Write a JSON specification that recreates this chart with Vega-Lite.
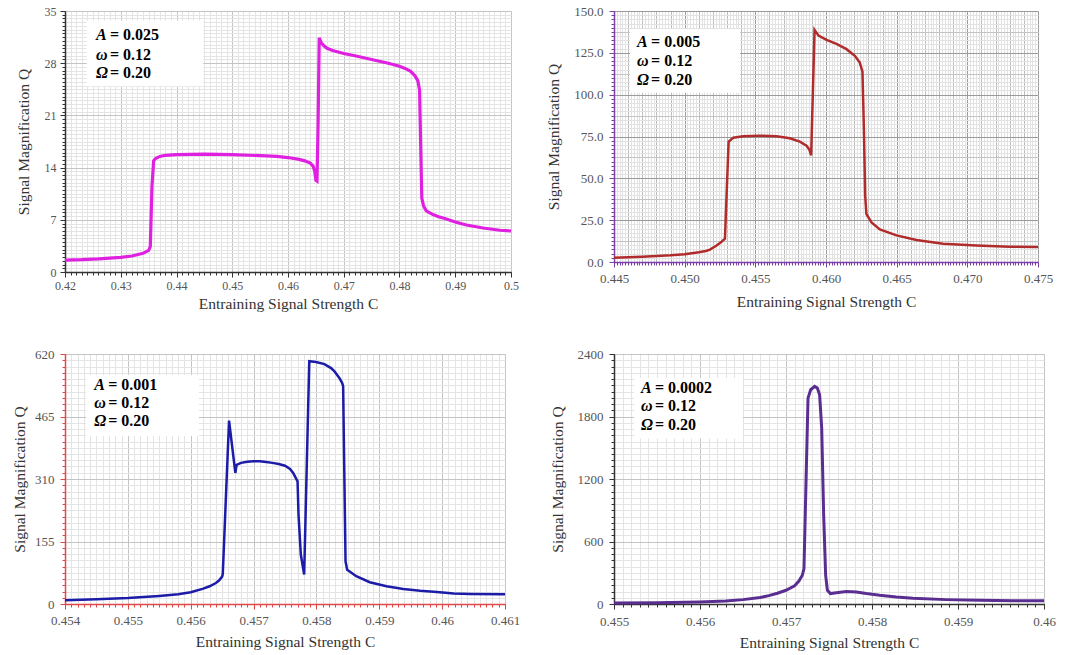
{
  "$schema": "https://vega.github.io/schema/vega-lite/v6.json",
  "background": "white",
  "padding": {"left": 12, "top": 5, "right": 5, "bottom": 5},
  "config": {
    "view": {"stroke": null},
    "axis": {"labelFont": "Liberation Serif", "titleFont": "Liberation Serif", "labelColor": "#555555", "titleColor": "#333333", "titleFontWeight": "normal", "labelFontSize": 13, "titleFontSize": 15.5, "labelFlush": false, "labelOverlap": false}
  },
  "datasets": {
    "p1": [
      {"C":0.42,"Q":1.6},{"C":0.423,"Q":1.65},{"C":0.426,"Q":1.75},{"C":0.428,"Q":1.85},{"C":0.43,"Q":1.97},{"C":0.432,"Q":2.15},{"C":0.434,"Q":2.5},{"C":0.435,"Q":2.9},{"C":0.4353,"Q":3.4},{"C":0.4356,"Q":11.5},{"C":0.4359,"Q":14.9},{"C":0.4362,"Q":15.2},{"C":0.437,"Q":15.5},{"C":0.438,"Q":15.65},{"C":0.44,"Q":15.75},{"C":0.445,"Q":15.8},{"C":0.45,"Q":15.75},{"C":0.455,"Q":15.6},{"C":0.458,"Q":15.5},{"C":0.46,"Q":15.35},{"C":0.462,"Q":15.1},{"C":0.463,"Q":14.9},{"C":0.464,"Q":14.6},{"C":0.4645,"Q":14.2},{"C":0.4648,"Q":13.5},{"C":0.465,"Q":12.3},{"C":0.4652,"Q":12.2},{"C":0.4654,"Q":20},{"C":0.4656,"Q":31.4},{"C":0.4658,"Q":31.0},{"C":0.466,"Q":30.7},{"C":0.4665,"Q":30.3},{"C":0.467,"Q":30.0},{"C":0.468,"Q":29.7},{"C":0.47,"Q":29.3},{"C":0.472,"Q":29.0},{"C":0.475,"Q":28.5},{"C":0.478,"Q":28.0},{"C":0.48,"Q":27.6},{"C":0.481,"Q":27.3},{"C":0.482,"Q":26.9},{"C":0.4828,"Q":26.3},{"C":0.4833,"Q":25.6},{"C":0.4836,"Q":24.4},{"C":0.4838,"Q":17},{"C":0.484,"Q":9.9},{"C":0.4843,"Q":8.9},{"C":0.4848,"Q":8.2},{"C":0.486,"Q":7.7},{"C":0.487,"Q":7.4},{"C":0.488,"Q":7.2},{"C":0.49,"Q":6.7},{"C":0.492,"Q":6.3},{"C":0.495,"Q":5.9},{"C":0.498,"Q":5.6},{"C":0.5,"Q":5.5}
    ],
    "p2": [
      {"C":0.445,"Q":2.6},{"C":0.447,"Q":3.2},{"C":0.449,"Q":4.0},{"C":0.45,"Q":4.7},{"C":0.451,"Q":5.8},{"C":0.4515,"Q":6.6},{"C":0.45179,"Q":7.4},{"C":0.45226,"Q":9.9},{"C":0.45261,"Q":12.1},{"C":0.45285,"Q":13.9},{"C":0.45311,"Q":71.9},{"C":0.45344,"Q":74.3},{"C":0.45414,"Q":75.1},{"C":0.45532,"Q":75.5},{"C":0.4565,"Q":75.1},{"C":0.45744,"Q":73.9},{"C":0.45815,"Q":71.9},{"C":0.45862,"Q":69.5},{"C":0.45881,"Q":67.4},{"C":0.45895,"Q":63.8},{"C":0.45919,"Q":138.7},{"C":0.45947,"Q":135.3},{"C":0.46004,"Q":132.7},{"C":0.46074,"Q":130.3},{"C":0.46145,"Q":127.2},{"C":0.46204,"Q":123.2},{"C":0.46239,"Q":119.2},{"C":0.46258,"Q":113.8},{"C":0.46268,"Q":79.9},{"C":0.46277,"Q":39.7},{"C":0.46286,"Q":28.6},{"C":0.46322,"Q":23.6},{"C":0.46381,"Q":19.5},{"C":0.46499,"Q":15.9},{"C":0.4664,"Q":13.1},{"C":0.46828,"Q":10.9},{"C":0.47064,"Q":9.9},{"C":0.473,"Q":9.1},{"C":0.475,"Q":8.9}
    ],
    "p3": [
      {"C":0.454,"Q":9},{"C":0.4545,"Q":12},{"C":0.455,"Q":15},{"C":0.4555,"Q":20},{"C":0.4558,"Q":24},{"C":0.456,"Q":29},{"C":0.4562,"Q":38},{"C":0.4563,"Q":44},{"C":0.4564,"Q":52},{"C":0.45645,"Q":58},{"C":0.4565,"Q":68},{"C":0.45651,"Q":74},{"C":0.45661,"Q":455},{"C":0.45671,"Q":325},{"C":0.45673,"Q":345},{"C":0.4568,"Q":350},{"C":0.4569,"Q":353},{"C":0.457,"Q":354},{"C":0.4571,"Q":354},{"C":0.4572,"Q":352},{"C":0.4573,"Q":350},{"C":0.4574,"Q":347},{"C":0.4575,"Q":343},{"C":0.45758,"Q":335},{"C":0.45763,"Q":325},{"C":0.4577,"Q":304},{"C":0.457715,"Q":221},{"C":0.457752,"Q":122},{"C":0.457805,"Q":73},{"C":0.457886,"Q":602},{"C":0.457993,"Q":600},{"C":0.458127,"Q":595},{"C":0.458233,"Q":585},{"C":0.458287,"Q":577},{"C":0.458367,"Q":560},{"C":0.45841,"Q":548},{"C":0.458425,"Q":540},{"C":0.458441,"Q":354},{"C":0.458463,"Q":106},{"C":0.458489,"Q":85},{"C":0.458634,"Q":69},{"C":0.458848,"Q":54},{"C":0.459115,"Q":44},{"C":0.459382,"Q":37},{"C":0.45965,"Q":33},{"C":0.459917,"Q":30},{"C":0.460184,"Q":26},{"C":0.46045,"Q":25},{"C":0.461,"Q":24}
    ],
    "p4": [
      {"C":0.455,"Q":10},{"C":0.4555,"Q":13},{"C":0.456,"Q":19},{"C":0.4563,"Q":28},{"C":0.4565,"Q":42},{"C":0.4567,"Q":62},{"C":0.4568,"Q":80},{"C":0.4569,"Q":103},{"C":0.457,"Q":132},{"C":0.4571,"Q":175},{"C":0.45715,"Q":220},{"C":0.45719,"Q":276},{"C":0.457209,"Q":340},{"C":0.457256,"Q":1976},{"C":0.457287,"Q":2057},{"C":0.457333,"Q":2089},{"C":0.457364,"Q":2073},{"C":0.457391,"Q":2008},{"C":0.457415,"Q":1688},{"C":0.457438,"Q":853},{"C":0.457461,"Q":276},{"C":0.457481,"Q":132},{"C":0.457516,"Q":100},{"C":0.457585,"Q":109},{"C":0.457702,"Q":119},{"C":0.457818,"Q":115},{"C":0.457934,"Q":100},{"C":0.458089,"Q":83},{"C":0.458283,"Q":67},{"C":0.458477,"Q":55},{"C":0.458864,"Q":42},{"C":0.459252,"Q":35},{"C":0.45964,"Q":32},{"C":0.46,"Q":32}
    ],
    "b1": [{"C1":0.4239,"C2":0.4448,"Q1":24.9,"Q2":33.7}],
    "b2": [{"C1":0.44613,"C2":0.45392,"Q1":101.2,"Q2":139.2}],
    "b3": [{"C1":0.454336,"C2":0.45613,"Q1":416.6,"Q2":568}],
    "b4": [{"C1":0.455233,"C2":0.4565,"Q1":1590,"Q2":2169}],
    "t1": [{"C":0.42556,"Q":31.1,"sym":"A","val":"= 0.025"},{"C":0.42556,"Q":28.4,"sym":"ω","val":"= 0.12"},{"C":0.42556,"Q":26.0,"sym":"Ω","val":"= 0.20"}],
    "t2": [{"C":0.44663,"Q":128.3,"sym":"A","val":"= 0.005"},{"C":0.44663,"Q":116.9,"sym":"ω","val":"= 0.12"},{"C":0.44663,"Q":106.0,"sym":"Ω","val":"= 0.20"}],
    "t3": [{"C":0.454465,"Q":530.7,"sym":"A","val":"= 0.001"},{"C":0.454465,"Q":486,"sym":"ω","val":"= 0.12"},{"C":0.454465,"Q":441,"sym":"Ω","val":"= 0.20"}],
    "t4": [{"C":0.455314,"Q":2024,"sym":"A","val":"= 0.0002"},{"C":0.455314,"Q":1851,"sym":"ω","val":"= 0.12"},{"C":0.455314,"Q":1668,"sym":"Ω","val":"= 0.20"}]
  },
  "columns": 2,
  "spacing": {"row": 82, "column": 103},
  "bounds": "flush",
  "concat": [
        {
          "width": 446, "height": 261,
          "layer": [
            {"data": {"name": "p1"}, "mark": {"type": "line", "strokeOpacity": 0},
             "encoding": {
               "x": {"field": "C", "type": "quantitative", "scale": {"domain": [0.42, 0.5], "nice": false, "zero": false},
                     "axis": {"orient": "bottom", "tickCount": 80, "grid": true, "gridColor": "#e4e4e4", "labels": false, "domain": false, "ticks": true, "tickSize": 3, "tickColor": "#333333", "title": null}},
               "y": {"field": "Q", "type": "quantitative", "scale": {"domain": [0, 35], "nice": false, "zero": false},
                     "axis": {"orient": "left", "tickCount": 70, "grid": true, "gridColor": "#e4e4e4", "labels": false, "domain": false, "ticks": true, "tickSize": 3, "tickColor": "#333333", "title": null}}
             }},
            {"data": {"name": "b1"}, "mark": {"type": "rect", "fill": "white"},
             "encoding": {"x": {"field": "C1", "type": "quantitative", "axis": null}, "x2": {"field": "C2"}, "y": {"field": "Q1", "type": "quantitative", "axis": null}, "y2": {"field": "Q2"}}},
            {"data": {"name": "p1"}, "mark": {"type": "line", "color": "#E020E0", "strokeWidth": 3.2},
             "encoding": {
               "x": {"field": "C", "type": "quantitative", "scale": {"domain": [0.42, 0.5], "nice": false, "zero": false},
                     "axis": {"orient": "bottom", "values": [0.42,0.43,0.44,0.45,0.46,0.47,0.48,0.49,0.5], "format": ".2~f", "grid": true, "gridColor": "#c4c4c4", "domainColor": "#333333", "domainWidth": 1.5, "tickColor": "#333333", "tickSize": 5, "labelPadding": 3, "labelFontSize": 12, "title": "Entraining Signal Strength  C", "titlePadding": 5}},
               "y": {"field": "Q", "type": "quantitative", "scale": {"domain": [0, 35], "nice": false, "zero": false},
                     "axis": {"orient": "left", "values": [0,7,14,21,28,35], "format": "d", "grid": true, "gridColor": "#c4c4c4", "domainColor": "#333333", "domainWidth": 1.5, "tickColor": "#333333", "tickSize": 5, "labelPadding": 4, "labelFontSize": 12, "title": "Signal Magnification  Q", "titlePadding": 13}}
             }},
            {"data": {"name": "t1"}, "mark": {"type": "text", "font": "Liberation Serif", "fontSize": 16, "fontWeight": "bold", "fontStyle": "italic", "align": "left", "baseline": "alphabetic", "color": "black"},
             "encoding": {"x": {"field": "C", "type": "quantitative", "axis": null}, "y": {"field": "Q", "type": "quantitative", "axis": null}, "text": {"field": "sym"}}},
            {"data": {"name": "t1"}, "mark": {"type": "text", "font": "Liberation Serif", "fontSize": 16, "fontWeight": "bold", "align": "left", "baseline": "alphabetic", "dx": 14, "color": "black"},
             "encoding": {"x": {"field": "C", "type": "quantitative", "axis": null}, "y": {"field": "Q", "type": "quantitative", "axis": null}, "text": {"field": "val"}}}
          ],
          "resolve": {"axis": {"x": "independent", "y": "independent"}}
        },
        {
          "width": 424, "height": 251,
          "layer": [
            {"data": {"name": "p2"}, "mark": {"type": "line", "strokeOpacity": 0},
             "encoding": {
               "x": {"field": "C", "type": "quantitative", "scale": {"domain": [0.445, 0.475], "nice": false, "zero": false},
                     "axis": {"orient": "bottom", "tickCount": 150, "grid": true, "gridColor": "#e2e2e2", "labels": false, "domain": false, "ticks": true, "tickSize": 3, "tickColor": "#7B3FA8", "title": null}},
               "y": {"field": "Q", "type": "quantitative", "scale": {"domain": [0, 150], "nice": false, "zero": false},
                     "axis": {"orient": "left", "values": [0,2.5,5,7.5,10,12.5,15,17.5,20,22.5,25,27.5,30,32.5,35,37.5,40,42.5,45,47.5,50,52.5,55,57.5,60,62.5,65,67.5,70,72.5,75,77.5,80,82.5,85,87.5,90,92.5,95,97.5,100,102.5,105,107.5,110,112.5,115,117.5,120,122.5,125,127.5,130,132.5,135,137.5,140,142.5,145,147.5,150], "grid": true, "gridColor": "#e2e2e2", "labels": false, "domain": false, "ticks": true, "tickSize": 3, "tickColor": "#7B3FA8", "title": null}}
             }},
            {"data": {"name": "p2"}, "mark": {"type": "line", "strokeOpacity": 0},
             "encoding": {
               "x": {"field": "C", "type": "quantitative", "scale": {"domain": [0.445, 0.475], "nice": false, "zero": false},
                     "axis": {"orient": "bottom", "tickCount": 30, "grid": true, "gridColor": "#bdbdbd", "labels": false, "domain": false, "ticks": false, "title": null}},
               "y": {"field": "Q", "type": "quantitative", "scale": {"domain": [0, 150], "nice": false, "zero": false},
                     "axis": {"orient": "left", "values": [0,12.5,25,37.5,50,62.5,75,87.5,100,112.5,125,137.5,150], "grid": true, "gridColor": "#c4c4c4", "labels": false, "domain": false, "ticks": false, "title": null}}
             }},
            {"data": {"name": "b2"}, "mark": {"type": "rect", "fill": "white"},
             "encoding": {"x": {"field": "C1", "type": "quantitative", "axis": null}, "x2": {"field": "C2"}, "y": {"field": "Q1", "type": "quantitative", "axis": null}, "y2": {"field": "Q2"}}},
            {"data": {"name": "p2"}, "mark": {"type": "line", "color": "#B02C2C", "strokeWidth": 2.5},
             "encoding": {
               "x": {"field": "C", "type": "quantitative", "scale": {"domain": [0.445, 0.475], "nice": false, "zero": false},
                     "axis": {"orient": "bottom", "values": [0.445,0.45,0.455,0.46,0.465,0.47,0.475], "format": ".3f", "grid": true, "gridColor": "#9a9a9a", "domainColor": "#7B3FA8", "domainWidth": 1.5, "tickColor": "#7B3FA8", "tickSize": 5, "labelPadding": 5, "title": "Entraining Signal Strength  C", "titlePadding": 9}},
               "y": {"field": "Q", "type": "quantitative", "scale": {"domain": [0, 150], "nice": false, "zero": false},
                     "axis": {"orient": "left", "values": [0,25,50,75,100,125,150], "format": ".1f", "grid": true, "gridColor": "#9a9a9a", "domainColor": "#7B3FA8", "domainWidth": 1.5, "tickColor": "#7B3FA8", "tickSize": 5, "labelPadding": 6, "title": "Signal Magnification  Q", "titlePadding": 12}}
             }},
            {"data": {"name": "t2"}, "mark": {"type": "text", "font": "Liberation Serif", "fontSize": 16, "fontWeight": "bold", "fontStyle": "italic", "align": "left", "baseline": "alphabetic", "color": "black"},
             "encoding": {"x": {"field": "C", "type": "quantitative", "axis": null}, "y": {"field": "Q", "type": "quantitative", "axis": null}, "text": {"field": "sym"}}},
            {"data": {"name": "t2"}, "mark": {"type": "text", "font": "Liberation Serif", "fontSize": 16, "fontWeight": "bold", "align": "left", "baseline": "alphabetic", "dx": 14, "color": "black"},
             "encoding": {"x": {"field": "C", "type": "quantitative", "axis": null}, "y": {"field": "Q", "type": "quantitative", "axis": null}, "text": {"field": "val"}}}
          ],
          "resolve": {"axis": {"x": "independent", "y": "independent"}}
        },
        {
          "width": 440, "height": 250,
          "layer": [
            {"data": {"name": "p3"}, "mark": {"type": "line", "strokeOpacity": 0},
             "encoding": {
               "x": {"field": "C", "type": "quantitative", "scale": {"domain": [0.454, 0.461], "nice": false, "zero": false},
                     "axis": {"orient": "bottom", "tickCount": 70, "grid": true, "gridColor": "#e4e4e4", "labels": false, "domain": false, "ticks": true, "tickSize": 3, "tickColor": "#E04848", "title": null}},
               "y": {"field": "Q", "type": "quantitative", "scale": {"domain": [0, 620], "nice": false, "zero": false},
                     "axis": {"orient": "left", "values": [0,15.5,31,46.5,62,77.5,93,108.5,124,139.5,155,170.5,186,201.5,217,232.5,248,263.5,279,294.5,310,325.5,341,356.5,372,387.5,403,418.5,434,449.5,465,480.5,496,511.5,527,542.5,558,573.5,589,604.5,620], "grid": true, "gridColor": "#e4e4e4", "labels": false, "domain": false, "ticks": true, "tickSize": 3, "tickColor": "#E04848", "title": null}}
             }},
            {"data": {"name": "b3"}, "mark": {"type": "rect", "fill": "white"},
             "encoding": {"x": {"field": "C1", "type": "quantitative", "axis": null}, "x2": {"field": "C2"}, "y": {"field": "Q1", "type": "quantitative", "axis": null}, "y2": {"field": "Q2"}}},
            {"data": {"name": "p3"}, "mark": {"type": "line", "color": "#1C1CA8", "strokeWidth": 2.5},
             "encoding": {
               "x": {"field": "C", "type": "quantitative", "scale": {"domain": [0.454, 0.461], "nice": false, "zero": false},
                     "axis": {"orient": "bottom", "values": [0.454,0.455,0.456,0.457,0.458,0.459,0.46,0.461], "format": ".3~f", "grid": true, "gridColor": "#c4c4c4", "domainColor": "#E04848", "domainWidth": 1.5, "tickColor": "#E04848", "tickSize": 5, "labelPadding": 5, "title": "Entraining Signal Strength  C", "titlePadding": 7}},
               "y": {"field": "Q", "type": "quantitative", "scale": {"domain": [0, 620], "nice": false, "zero": false},
                     "axis": {"orient": "left", "values": [0,155,310,465,620], "format": "d", "grid": true, "gridColor": "#c4c4c4", "domainColor": "#E04848", "domainWidth": 1.5, "tickColor": "#E04848", "tickSize": 5, "labelPadding": 6, "title": "Signal Magnification  Q", "titlePadding": 7}}
             }},
            {"data": {"name": "t3"}, "mark": {"type": "text", "font": "Liberation Serif", "fontSize": 16, "fontWeight": "bold", "fontStyle": "italic", "align": "left", "baseline": "alphabetic", "color": "black"},
             "encoding": {"x": {"field": "C", "type": "quantitative", "axis": null}, "y": {"field": "Q", "type": "quantitative", "axis": null}, "text": {"field": "sym"}}},
            {"data": {"name": "t3"}, "mark": {"type": "text", "font": "Liberation Serif", "fontSize": 16, "fontWeight": "bold", "align": "left", "baseline": "alphabetic", "dx": 14, "color": "black"},
             "encoding": {"x": {"field": "C", "type": "quantitative", "axis": null}, "y": {"field": "Q", "type": "quantitative", "axis": null}, "text": {"field": "val"}}}
          ],
          "resolve": {"axis": {"x": "independent", "y": "independent"}}
        },
        {
          "width": 430, "height": 250,
          "layer": [
            {"data": {"name": "p4"}, "mark": {"type": "line", "strokeOpacity": 0},
             "encoding": {
               "x": {"field": "C", "type": "quantitative", "scale": {"domain": [0.455, 0.46], "nice": false, "zero": false},
                     "axis": {"orient": "bottom", "tickCount": 50, "grid": true, "gridColor": "#e4e4e4", "labels": false, "domain": false, "ticks": true, "tickSize": 3, "tickColor": "#333333", "title": null}},
               "y": {"field": "Q", "type": "quantitative", "scale": {"domain": [0, 2400], "nice": false, "zero": false},
                     "axis": {"orient": "left", "values": [0,60,120,180,240,300,360,420,480,540,600,660,720,780,840,900,960,1020,1080,1140,1200,1260,1320,1380,1440,1500,1560,1620,1680,1740,1800,1860,1920,1980,2040,2100,2160,2220,2280,2340,2400], "grid": true, "gridColor": "#e4e4e4", "labels": false, "domain": false, "ticks": true, "tickSize": 3, "tickColor": "#333333", "title": null}}
             }},
            {"data": {"name": "b4"}, "mark": {"type": "rect", "fill": "white"},
             "encoding": {"x": {"field": "C1", "type": "quantitative", "axis": null}, "x2": {"field": "C2"}, "y": {"field": "Q1", "type": "quantitative", "axis": null}, "y2": {"field": "Q2"}}},
            {"data": {"name": "p4"}, "mark": {"type": "line", "color": "#5A2D91", "strokeWidth": 3},
             "encoding": {
               "x": {"field": "C", "type": "quantitative", "scale": {"domain": [0.455, 0.46], "nice": false, "zero": false},
                     "axis": {"orient": "bottom", "values": [0.455,0.456,0.457,0.458,0.459,0.46], "format": ".3~f", "grid": true, "gridColor": "#c4c4c4", "domainColor": "#333333", "domainWidth": 1.5, "tickColor": "#333333", "tickSize": 5, "labelPadding": 6, "title": "Entraining Signal Strength  C", "titlePadding": 7}},
               "y": {"field": "Q", "type": "quantitative", "scale": {"domain": [0, 2400], "nice": false, "zero": false},
                     "axis": {"orient": "left", "values": [0,600,1200,1800,2400], "format": "d", "grid": true, "gridColor": "#c4c4c4", "domainColor": "#333333", "domainWidth": 1.5, "tickColor": "#333333", "tickSize": 5, "labelPadding": 6, "title": "Signal Magnification  Q", "titlePadding": 12}}
             }},
            {"data": {"name": "t4"}, "mark": {"type": "text", "font": "Liberation Serif", "fontSize": 16, "fontWeight": "bold", "fontStyle": "italic", "align": "left", "baseline": "alphabetic", "color": "black"},
             "encoding": {"x": {"field": "C", "type": "quantitative", "axis": null}, "y": {"field": "Q", "type": "quantitative", "axis": null}, "text": {"field": "sym"}}},
            {"data": {"name": "t4"}, "mark": {"type": "text", "font": "Liberation Serif", "fontSize": 16, "fontWeight": "bold", "align": "left", "baseline": "alphabetic", "dx": 14, "color": "black"},
             "encoding": {"x": {"field": "C", "type": "quantitative", "axis": null}, "y": {"field": "Q", "type": "quantitative", "axis": null}, "text": {"field": "val"}}}
          ],
          "resolve": {"axis": {"x": "independent", "y": "independent"}}
        }
  ]
}
